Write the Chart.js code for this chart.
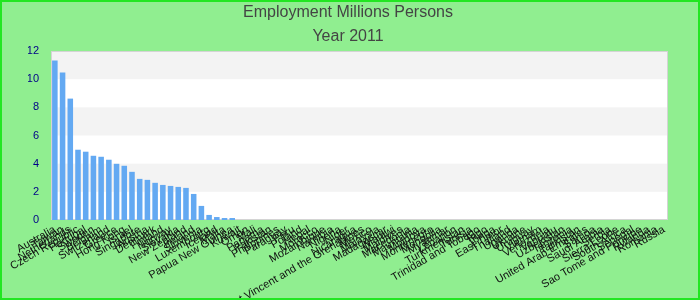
<!DOCTYPE html>
<html>
<head>
<meta charset="utf-8">
<script src="https://cdn.jsdelivr.net/npm/chart.js@4.4.1/dist/chart.umd.min.js"></script>
<style>
  html, body { margin: 0; padding: 0; }
  #wrap {
    width: 700px; height: 300px; box-sizing: border-box;
    border: 2px solid #22e622; background: #90ee90;
  }
  #wrap canvas { display: block; }
</style>
</head>
<body>
<div id="wrap"><canvas id="chart" width="696" height="296"></canvas></div>
<script>
// Employment, millions of persons, 2011
const countries = [
    'Australia', 'Taiwan', 'Netherlands', 'Czech Republic', 'Portugal', 'Sweden',
    'Belgium', 'Switzerland', 'Greece', 'Hong Kong', 'Israel', 'Singapore',
    'Austria', 'Denmark', 'Finland', 'Norway', 'Slovakia', 'New Zealand',
    'Ireland', 'Slovenia', 'Luxembourg', 'Iceland', 'Malta', 'Papua New Guinea',
    'Kuwait', 'Oman', 'Mali', 'Panama', 'Pakistan', 'Philippines',
    'Paraguay', 'Peru', 'Poland', 'Nepal', 'Morocco', 'Mozambique',
    'Namibia', 'Nigeria', 'Niger', 'Nicaragua', 'Saint Vincent and the Grenadines', 'Mexico',
    'Malaysia', 'Madagascar', 'Malawi', 'Maldives', 'Macedonia', 'Mauritania',
    'Moldova', 'Montenegro', 'Mongolia', 'Myanmar', 'Lebanon', 'Turkmenistan',
    'Tunisia', 'Trinidad and Tobago', 'Togo', 'Tonga', 'East Timor', 'Thailand',
    'Uganda', 'Ukraine', 'Uruguay', 'Vietnam', 'Venezuela', 'Vanuatu',
    'Uzbekistan', 'Tanzania', 'Tajikistan', 'United Arab Emirates', 'Samoa', 'Saudi Arabia',
    'Serbia', 'Sierra Leone', 'South Africa', 'Senegal', 'Sao Tome and Principe', 'Rwanda',
    'Romania', 'Russia'
];

const employment = [
    11.33, 10.48, 8.62, 4.99, 4.85, 4.56,
    4.49, 4.28, 3.99, 3.85, 3.42, 2.92,
    2.85, 2.64, 2.49, 2.42, 2.35, 2.28,
    1.85, 1.00, 0.36, 0.21, 0.14, 0.14
];

const yTicks = [0, 2, 4, 6, 8, 10, 12];
const titleLines = ['Employment Millions Persons', 'Year 2011'];

// pad the series so every country gets a (missing) value
const seriesData = countries.map((c, i) => (i < employment.length ? employment[i] : null));

// alternating grey / white bands behind the bars, plus the plot frame
const plotBands = {
    id: 'plotBands',
    beforeDatasetsDraw(chart) {
        const { ctx, chartArea: a, scales: { y } } = chart;
        ctx.save();
        ctx.fillStyle = '#ffffff';
        ctx.fillRect(a.left, a.top, a.right - a.left, a.bottom - a.top);
        ctx.fillStyle = '#f3f3f3';
        for (let i = 0; i < yTicks.length - 1; i++) {
            if (i % 2 === 1) {
                const top = y.getPixelForValue(yTicks[i + 1]);
                const bottom = y.getPixelForValue(yTicks[i]);
                ctx.fillRect(a.left, top, a.right - a.left, bottom - top);
            }
        }
        ctx.strokeStyle = '#d4d4d4';
        ctx.lineWidth = 1;
        ctx.strokeRect(a.left + 0.5, a.top + 0.5, a.right - a.left - 1, a.bottom - a.top - 1);
        ctx.restore();
    }
};

new Chart(document.getElementById('chart'), {
    type: 'bar',
    data: {
        labels: countries,
        datasets: [{
            label: 'Employment',
            data: seriesData,
            backgroundColor: '#63a9f2',
            borderWidth: 0
        }]
    },
    options: {
        responsive: false,
        animation: false,
        // left padding balances the right one so the title sits centred
        layout: { padding: { left: 26, right: 30, top: 0, bottom: 0 } },
        plugins: {
            legend: { display: false },
            tooltip: { enabled: false },
            title: {
                display: true,
                text: titleLines,
                color: '#444444',
                font: { family: "'Liberation Sans', Arial, sans-serif", size: 16, weight: 'normal', lineHeight: 1.5 },
                padding: { top: -1, bottom: 2 }
            }
        },
        scales: {
            x: {
                grid: { display: false, drawTicks: false },
                border: { display: false },
                ticks: {
                    autoSkip: false,
                    minRotation: 30,
                    maxRotation: 30,
                    padding: 3,
                    color: '#111111',
                    font: { family: "'Liberation Sans', Arial, sans-serif", size: 11 }
                },
                afterFit: (scale) => { scale.height = 78; }
            },
            y: {
                min: 0,
                max: 12,
                grid: { display: false, drawTicks: false },
                border: { display: false },
                ticks: {
                    stepSize: 2,
                    padding: 12,
                    color: '#000088',
                    font: { family: "'Liberation Sans', Arial, sans-serif", size: 11 }
                },
                afterFit: (scale) => { scale.width = 23; }
            }
        }
    },
    plugins: [plotBands]
});
</script>
</body>
</html>
